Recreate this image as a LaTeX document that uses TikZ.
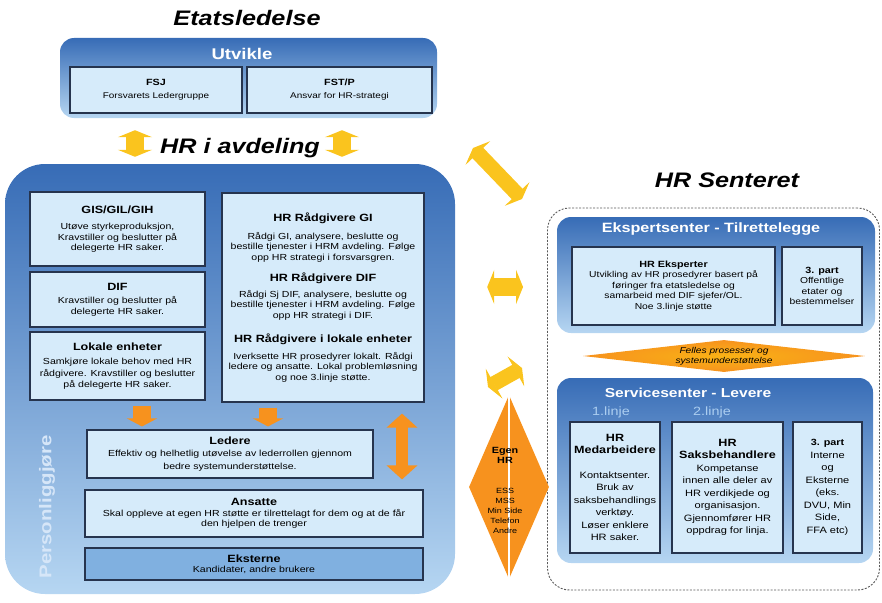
\documentclass[tikz,border=0pt]{standalone}
\usepackage{fontspec}
\setmainfont[FakeStretch=1.2]{Liberation Sans}
\usetikzlibrary{arrows.meta, positioning, shapes.geometric}

\definecolor{panTop}{RGB}{55,108,182}
\definecolor{panBot}{RGB}{182,214,242}
\definecolor{cellFill}{RGB}{214,235,250}
\definecolor{cellLine}{RGB}{38,52,78}
\definecolor{ekstFill}{RGB}{128,176,224}
\definecolor{hrOrange}{RGB}{247,146,30}
\definecolor{hrYellow}{RGB}{250,196,30}
\definecolor{linjeBlue}{RGB}{172,206,240}
\definecolor{persText}{RGB}{214,230,248}

\newcommand{\boxhead}[1]{{\fontsize{10.5}{12}\selectfont\bfseries #1}}
\newcommand{\smallhead}[1]{{\fontsize{9}{11}\selectfont\bfseries #1}}

\tikzset{
  panel/.style={rounded corners=14pt, top color=panTop, bottom color=panBot, draw=none, inner sep=0pt},
  cell/.style={draw=cellLine, line width=1.1pt, fill=cellFill, align=center, inner sep=1pt,
               font=\fontsize{8.8}{10.5}\selectfont},
  head/.style={font=\bfseries\itshape\fontsize{21}{24}\selectfont},
  bartitle/.style={text=white, font=\bfseries\fontsize{13}{15}\selectfont},
  fatyellow/.style={draw=hrYellow, line width=18pt,
                    {Triangle[width=34pt,length=7pt]}-{Triangle[width=34pt,length=7pt]}},
  fatorange/.style={draw=hrOrange, line width=18pt, -{Triangle[width=30pt,length=8pt]}},
  bothorange/.style={draw=hrOrange, line width=12pt,
                     {Triangle[width=30pt,length=14pt]}-{Triangle[width=30pt,length=14pt]}},
}

\begin{document}
\begin{tikzpicture}[x=1pt, y=-1pt]
  \useasboundingbox (0,0) rectangle (882,602);

  % Etatsledelse
  \node[head] (etat) at (247,18) {Etatsledelse};
  \node[panel, minimum width=377pt, minimum height=80pt] (utvikle) at (248.5,78) {};
  \node[bartitle, font=\bfseries\fontsize{15.5}{18}\selectfont] (utvtitle) at (242,54) {Utvikle};
  \begin{scope}[every node/.style={cell, minimum height=46pt, font=\fontsize{8.3}{10}\selectfont}]
    \node[minimum width=172pt] (fsj) at (156,90) {\smallhead{FSJ}\\[3pt]Forsvarets Ledergruppe};
    \node[minimum width=185pt] (fstp) at (339.5,90) {\smallhead{FST/P}\\[3pt]Ansvar for HR-strategi};
  \end{scope}

  % HR i avdeling
  \node[head] (avd) at (240,148) {HR i avdeling};
  \node[panel, rounded corners=40pt, minimum width=450pt, minimum height=430pt] (avdpanel) at (230,379) {};
  \node[rotate=90, text=persText, font=\bfseries\fontsize{17}{20}\selectfont] (pers) at (47,507) {Personliggjøre};

  \begin{scope}[every node/.style={cell, minimum width=175pt}]
    \node[minimum height=74pt] (gis) at (117.5,229)
      {\boxhead{GIS/GIL/GIH}\\[6pt]Utøve styrkeproduksjon,\\Kravstiller og beslutter på\\delegerte HR saker.};
    \node[minimum height=55pt] (dif) at (117.5,299.5)
      {\boxhead{DIF}\\[3pt]Kravstiller og beslutter på\\delegerte HR saker.};
    \node[minimum height=68pt, font=\fontsize{8.8}{11.5}\selectfont] (lokale) at (117.5,366)
      {\boxhead{Lokale enheter}\\[3pt]Samkjøre lokale behov med HR\\rådgivere. Kravstiller og beslutter\\på delegerte HR saker.};
  \end{scope}
  \node[cell, minimum width=202pt, minimum height=209pt] (raad) at (323,297.5)
    {\boxhead{HR Rådgivere GI}\\[7pt]Rådgi GI, analysere, beslutte og\\bestille tjenester i HRM avdeling. Følge\\opp HR strategi i forsvarsgren.\\[11pt]
     \boxhead{HR Rådgivere DIF}\\[5pt]Rådgi Sj DIF, analysere, beslutte og\\bestille tjenester i HRM avdeling. Følge\\opp HR strategi i DIF.\\[14pt]
     \boxhead{HR Rådgivere i lokale enheter}\\[6pt]Iverksette HR prosedyrer lokalt. Rådgi\\ledere og ansatte. Lokal problemløsning\\og noe 3.linje støtte.};

  \node[cell, minimum width=286pt, minimum height=48pt, font=\fontsize{8.8}{12.5}\selectfont] (ledere) at (230,454)
    {\boxhead{Ledere}\\Effektiv og helhetlig utøvelse av lederrollen gjennom\\bedre systemunderstøttelse.};
  \node[cell, minimum width=338pt, minimum height=47pt] (ansatte) at (254,513.5)
    {\boxhead{Ansatte}\\Skal oppleve at egen HR støtte er tilrettelagt for dem og at de får\\den hjelpen de trenger};
  \node[cell, fill=ekstFill, minimum width=338pt, minimum height=32pt] (eksterne) at (254,564)
    {\boxhead{Eksterne}\\Kandidater, andre brukere};

  \coordinate (arA) at ([xshift=24.5pt]lokale.south);
  \coordinate (arB) at ([xshift=-55pt]raad.south);
  \coordinate (arC) at ([xshift=79pt]raad.south);
  \draw[fatorange, shorten <=5pt, shorten >=3pt] (arA) -- (arA |- ledere.north);
  \draw[fatorange, shorten <=5pt, shorten >=3pt] (arB) -- (arB |- ledere.north);
  \draw[bothorange, shorten <=11pt, shorten >=10pt] (arC) -- (arC |- ansatte.north);

  \coordinate (yA) at ([xshift=-113.5pt]utvikle.south);
  \coordinate (yB) at ([xshift=93.5pt]utvikle.south);
  \draw[fatyellow, shorten <=12pt, shorten >=7pt] (yA) -- (yA |- avdpanel.north);
  \draw[fatyellow, shorten <=12pt, shorten >=7pt] (yB) -- (yB |- avdpanel.north);

  % HR Senteret
  \node[head] (senthead) at (727,180) {HR Senteret};
  \node[draw=gray!70!black, dash pattern=on 2pt off 1.5pt, line width=0.9pt, rounded corners=22pt,
        minimum width=332pt, minimum height=382pt] (senter) at (713.5,399) {};

  \node[panel, minimum width=318pt, minimum height=116pt] (ekspert) at (716,275) {};
  \node[bartitle, font=\bfseries\fontsize{13.5}{16}\selectfont] (eksptitle) at (711,229) {Ekspertsenter - Tilrettelegge};
  \begin{scope}[every node/.style={cell, minimum height=78pt, font=\fontsize{8.6}{10.5}\selectfont}]
    \node[minimum width=203pt] (eksperter) at (673.5,286)
      {\smallhead{HR Eksperter}\\Utvikling av HR prosedyrer basert på\\føringer fra etatsledelse og\\samarbeid med DIF sjefer/OL.\\Noe 3.linje støtte};
    \node[minimum width=80pt] (part1) at (822,286)
      {\smallhead{3. part}\\Offentlige\\etater og\\bestemmelser};
  \end{scope}

  \node[diamond, inner sep=0pt, minimum width=282pt, minimum height=32pt,
        inner color=hrOrange!70!yellow, outer color=hrOrange] (felles) at (724,356) {};
  \node[align=center, font=\itshape\fontsize{8.5}{10}\selectfont] (fellestxt) at (724,356)
    {Felles prosesser og\\systemunderstøttelse};

  \node[panel, minimum width=316pt, minimum height=185pt] (service) at (715,470.5) {};
  \node[bartitle, font=\bfseries\fontsize{13}{15}\selectfont] (servtitle) at (688,393) {Servicesenter - Levere};
  \node[text=linjeBlue, font=\fontsize{12}{14}\selectfont] (linje1) at (611,412) {1.linje};
  \node[text=linjeBlue, font=\fontsize{12}{14}\selectfont] (linje2) at (712,412) {2.linje};
  \begin{scope}[every node/.style={cell, minimum height=131pt, font=\fontsize{9.2}{12.5}\selectfont}]
    \node[minimum width=90pt] (medarb) at (615,487.5)
      {\boxhead{HR}\\\boxhead{Medarbeidere}\\[12pt]Kontaktsenter.\\Bruk av\\saksbehandlings\\verktøy.\\Løser enklere\\HR saker.};
    \node[minimum width=111pt] (saks) at (727.5,487.5)
      {\boxhead{HR}\\\boxhead{Saksbehandlere}\\Kompetanse\\innen alle deler av\\HR verdikjede og\\organisasjon.\\Gjennomfører HR\\oppdrag for linja.};
    \node[minimum width=69pt] (part2) at (827.5,487.5)
      {\smallhead{3. part}\\Interne\\og\\Eksterne\\(eks.\\DVU, Min\\Side,\\FFA etc)};
  \end{scope}

  % Egen HR
  \node[diamond, inner sep=0pt, minimum width=80pt, minimum height=184pt, fill=hrOrange] (egen) at (509,487) {};
  \draw[white, line width=1.2pt] (egen.north) -- (egen.south);
  \node[align=center, font=\fontsize{7.5}{10}\selectfont] (egentxt) at (505,490)
    {\smallhead{Egen}\\\smallhead{HR}\\[20pt]ESS\\MSS\\Min Side\\Telefon\\Andre};

  \coordinate (dg1) at (473,148);
  \coordinate (dg2) at (522,199);
  \coordinate (hz) at (0,287);
  \coordinate (tl1) at (488,387);
  \coordinate (tl2) at (522,368);
  \draw[fatyellow, line width=15pt] (dg1) -- (dg2);
  \draw[fatyellow, shorten <=32pt, shorten >=24pt] (avdpanel.east |- hz) -- (senter.west |- hz);
  \draw[fatyellow, line width=15pt] (tl1) -- (tl2);
\end{tikzpicture}
\end{document}
